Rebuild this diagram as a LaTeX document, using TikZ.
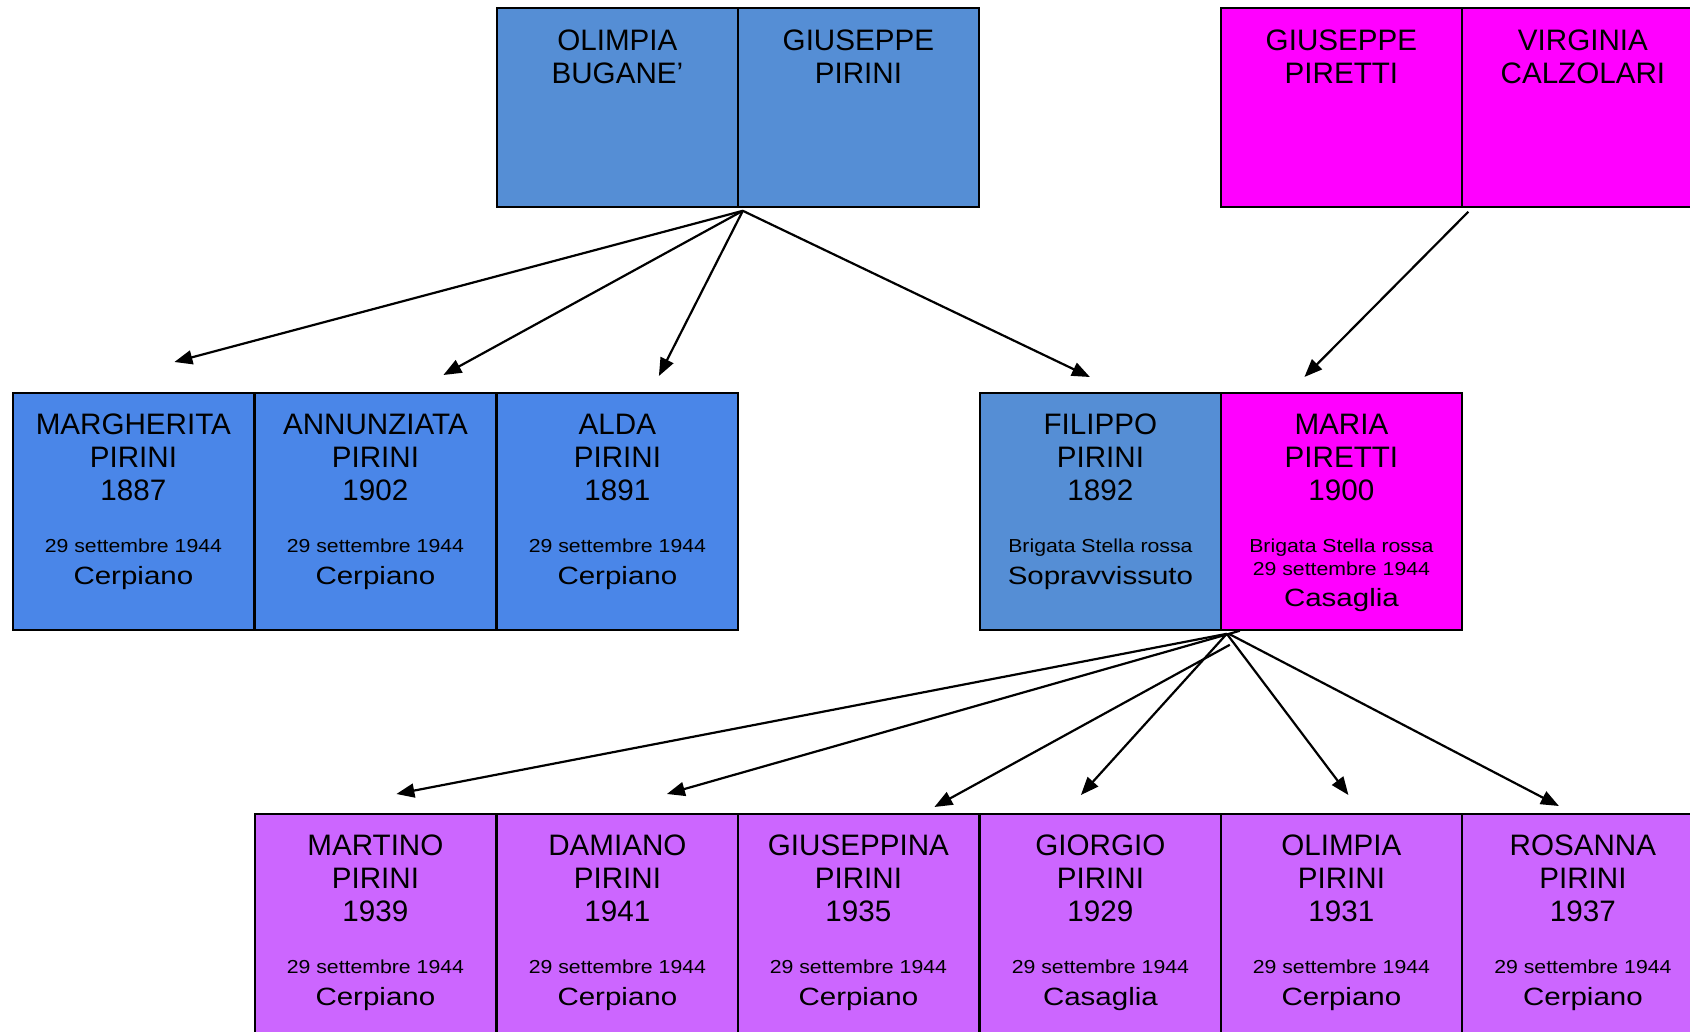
\documentclass[tikz,border=0pt]{standalone}
\usepackage{fontspec}
\setmainfont{Liberation Sans}
\newfontfamily\piccolo[FakeStretch=1.13]{Liberation Sans}
\newfontfamily\luogo[FakeStretch=1.18]{Liberation Sans}
\usetikzlibrary{arrows.meta}

\definecolor{azzurro}{RGB}{85,142,213}
\definecolor{celeste}{RGB}{74,134,232}
\definecolor{fucsia}{RGB}{255,0,255}
\definecolor{lilla}{RGB}{204,102,255}

% box text: height, names, small lines, place
\newcommand{\scheda}[4]{%
	\parbox[c][#1][t]{241pt}{\centering
		\fontsize{29.6}{33}\selectfont\rule{0pt}{42pt}#2\par
		\piccolo\fontsize{18.8}{52}\selectfont #3\par
		\luogo\fontsize{25}{31.5}\selectfont #4\par}}

\begin{document}
\begin{tikzpicture}[x=1pt, y=-1pt,
		persona/.style = {draw, line width=1.8pt, inner sep=0pt, anchor=north west},
		freccia/.style = {-{Triangle[length=18pt, width=14pt]}, line width=2.2pt}]
	
	\useasboundingbox (0,0) rectangle (1690,1032);
	
	% genitori
	\node[persona, fill=azzurro] (olimpiaB) at (496,7.5) {\scheda{198.5pt}{OLIMPIA\\BUGANE’}{}{}};
	\node[persona, fill=azzurro] (giuseppeP) at (737,7.5) {\scheda{198.5pt}{GIUSEPPE\\PIRINI}{}{}};
	
	\node[persona, fill=fucsia] (giuseppePt) at (1220,7.5) {\scheda{198.5pt}{GIUSEPPE\\PIRETTI}{}{}};
	\node[persona, fill=fucsia] (virginia) at (1461.5,7.5) {\scheda{198.5pt}{VIRGINIA\\CALZOLARI}{}{}};
	
	% figli
	\node[persona, fill=celeste] (margherita) at (12,392) {\scheda{237pt}{MARGHERITA\\PIRINI\\1887}{29 settembre 1944}{Cerpiano}};
	\node[persona, fill=celeste] (annunziata) at (254,392) {\scheda{237pt}{ANNUNZIATA\\PIRINI\\1902}{29 settembre 1944}{Cerpiano}};
	\node[persona, fill=celeste] (alda) at (496,392) {\scheda{237pt}{ALDA\\PIRINI\\1891}{29 settembre 1944}{Cerpiano}};
	
	\node[persona, fill=azzurro] (filippo) at (979,392) {\scheda{237pt}{FILIPPO\\PIRINI\\1892}{Brigata Stella rossa}{Sopravvissuto}};
	\node[persona, fill=fucsia] (maria) at (1220,392) {\scheda{237pt}{MARIA\\PIRETTI\\1900}{Brigata Stella rossa\par\fontsize{18.8}{22.3}\selectfont 29 settembre 1944}{Casaglia}};
	
	% nipoti
	\node[persona, fill=lilla] (martino) at (254,813) {\scheda{237pt}{MARTINO\\PIRINI\\1939}{29 settembre 1944}{Cerpiano}};
	\node[persona, fill=lilla] (damiano) at (496,813) {\scheda{237pt}{DAMIANO\\PIRINI\\1941}{29 settembre 1944}{Cerpiano}};
	\node[persona, fill=lilla] (giuseppina) at (737,813) {\scheda{237pt}{GIUSEPPINA\\PIRINI\\1935}{29 settembre 1944}{Cerpiano}};
	\node[persona, fill=lilla] (giorgio) at (979,813) {\scheda{237pt}{GIORGIO\\PIRINI\\1929}{29 settembre 1944}{Casaglia}};
	\node[persona, fill=lilla] (olimpiaP) at (1220,813) {\scheda{237pt}{OLIMPIA\\PIRINI\\1931}{29 settembre 1944}{Cerpiano}};
	\node[persona, fill=lilla] (rosanna) at (1461.5,813) {\scheda{237pt}{ROSANNA\\PIRINI\\1937}{29 settembre 1944}{Cerpiano}};
	
	% frecce
	\draw[freccia] ([xshift=4pt, yshift=-3pt]olimpiaB.south east) -- ([xshift=41pt, yshift=30pt]margherita.north);
	\draw[freccia] ([xshift=4pt, yshift=-3pt]olimpiaB.south east) -- ([xshift=68pt, yshift=17pt]annunziata.north);
	\draw[freccia] ([xshift=4pt, yshift=-3pt]olimpiaB.south east) -- ([xshift=41.5pt, yshift=16pt]alda.north);
	\draw[freccia] ([xshift=4pt, yshift=-3pt]olimpiaB.south east) -- ([xshift=-10.5pt, yshift=15pt]filippo.north);
	
	\draw[freccia] ([xshift=5.5pt, yshift=-4pt]giuseppePt.south east) -- ([xshift=-37pt, yshift=15pt]maria.north);
	
	\draw[freccia] ([xshift=5pt, yshift=-3pt]filippo.south east) -- ([xshift=21pt, yshift=19pt]martino.north);
	\draw[freccia] ([xshift=18pt]filippo.south east) -- ([xshift=49.5pt, yshift=19pt]damiano.north);
	\draw[freccia] ([xshift=8pt, yshift=-14pt]filippo.south east) -- ([xshift=76pt, yshift=6pt]giuseppina.north);
	\draw[freccia] ([xshift=5pt, yshift=-3pt]filippo.south east) -- ([xshift=-19.5pt, yshift=18pt]giorgio.north);
	\draw[freccia] ([xshift=5pt, yshift=-3pt]filippo.south east) -- ([xshift=7pt, yshift=18pt]olimpiaP.north);
	\draw[freccia] ([xshift=7pt, yshift=-3pt]filippo.south east) -- ([xshift=-24pt, yshift=7pt]rosanna.north);
	
\end{tikzpicture}
\end{document}
